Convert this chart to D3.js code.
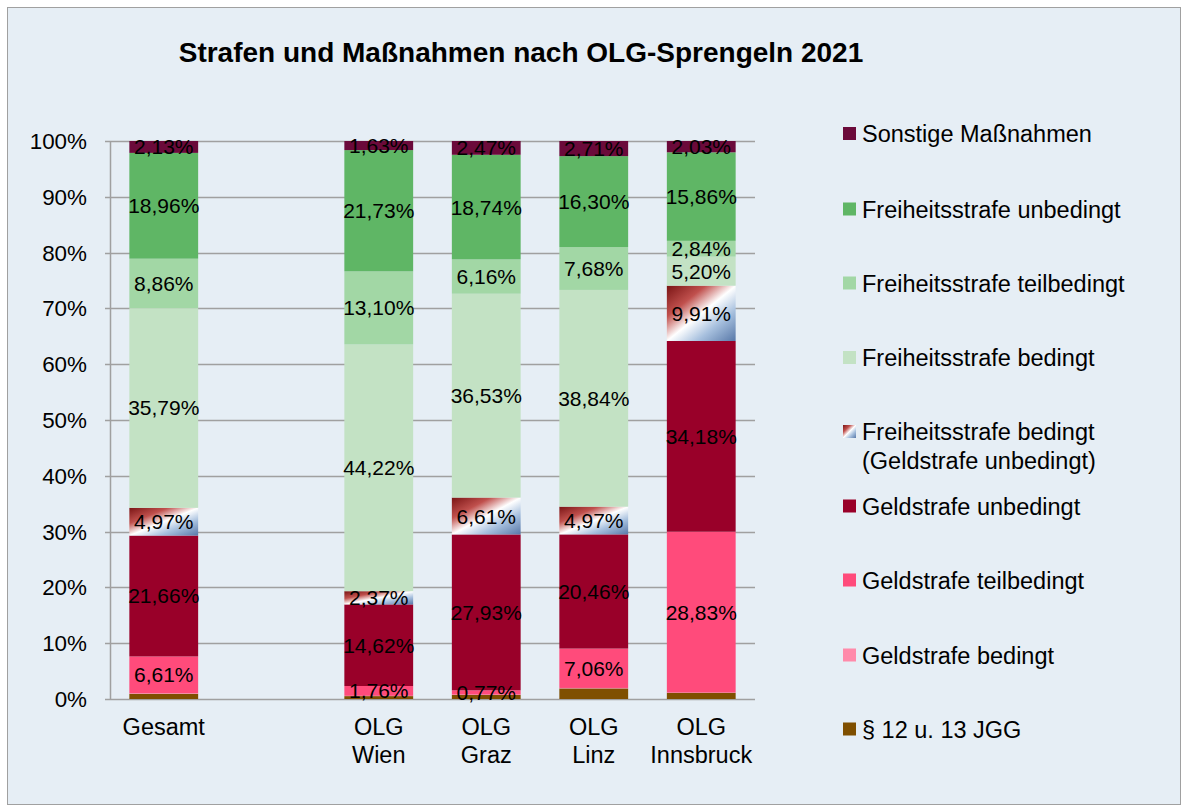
<!DOCTYPE html>
<html>
<head>
<meta charset="utf-8">
<script src="https://cdn.jsdelivr.net/npm/d3@7"></script>
<style>
  body { margin: 0; background: #fff; }
  svg { font-family: "Liberation Sans", Arial, sans-serif; }
</style>
</head>
<body>
<script>
// Categories (columns) – a spacer slot sits between Gesamt and the OLG columns
const categories = ["Gesamt", "OLG Wien", "OLG Graz", "OLG Linz", "OLG Innsbruck"];
const slots = ["Gesamt", "spacer", "OLG Wien", "OLG Graz", "OLG Linz", "OLG Innsbruck"];

// Series, bottom to top, values in percent
const seriesNames = [
  "§ 12 u. 13 JGG",
  "Geldstrafe bedingt",
  "Geldstrafe teilbedingt",
  "Geldstrafe unbedingt",
  "Freiheitsstrafe bedingt (Geldstrafe unbedingt)",
  "Freiheitsstrafe bedingt",
  "Freiheitsstrafe teilbedingt",
  "Freiheitsstrafe unbedingt",
  "Sonstige Maßnahmen"
];
const jgg              = [0.92, 0.52, 0.72, 1.90, 1.10];
const geldBedingt      = [0.10, 0.05, 0.07, 0.08, 0.05];
const geldTeilbedingt  = [6.61, 1.76, 0.77, 7.06, 28.83];
const geldUnbedingt    = [21.66, 14.62, 27.93, 20.46, 34.18];
const freiGeld         = [4.97, 2.37, 6.61, 4.97, 9.91];
const freiBedingt      = [35.79, 44.22, 36.53, 38.84, 5.20];
const freiTeilbedingt  = [8.86, 13.10, 6.16, 7.68, 2.84];
const freiUnbedingt    = [18.96, 21.73, 18.74, 16.30, 15.86];
const sonstige         = [2.13, 1.63, 2.47, 2.71, 2.03];
const seriesValues = [jgg, geldBedingt, geldTeilbedingt, geldUnbedingt, freiGeld,
                      freiBedingt, freiTeilbedingt, freiUnbedingt, sonstige];
const showLabel = [false, false, true, true, true, true, true, true, true];
const yTicks = [0, 10, 20, 30, 40, 50, 60, 70, 80, 90, 100];

const colors = ["#7F4F00", "#FF8AAA", "#FF4B7B", "#990029", "url(#stripe)",
                "#C3E2C4", "#A2D7A5", "#5FB665", "#6B0A3A"];

const W = 1182, H = 807;
const plot = { left: 110, right: 755, top: 141, bottom: 699 };

const svg = d3.select("body").append("svg")
  .attr("width", W).attr("height", H);

// gradient used by the mixed series
const grad = svg.append("defs").append("linearGradient")
  .attr("id", "stripe")
  .attr("x1", 0).attr("y1", 0).attr("x2", 1).attr("y2", 1);
[["0", "#7A1414"], ["0.28", "#C0504D"], ["0.5", "#FFFFFF"], ["0.72", "#A7C0DE"], ["1", "#5878A8"]]
  .forEach(s => grad.append("stop").attr("offset", s[0]).attr("stop-color", s[1]));

// background + border
svg.append("rect")
  .attr("x", 7.5).attr("y", 7.5).attr("width", W - 9).attr("height", H - 10)
  .attr("fill", "#E6EEF5").attr("stroke", "#A0A0A0").attr("stroke-width", 1);

// title
svg.append("text")
  .attr("x", 521).attr("y", 62)
  .attr("text-anchor", "middle")
  .style("font-size", "28px").style("font-weight", "bold")
  .text("Strafen und Maßnahmen nach OLG-Sprengeln 2021");

const x = d3.scaleBand().domain(slots)
  .range([plot.left, plot.right])
  .paddingInner(0.36).paddingOuter(0.18);
const y = d3.scaleLinear().domain([0, 100]).range([plot.bottom, plot.top]);

// gridlines
svg.append("g").selectAll("line").data(yTicks).enter().append("line")
  .attr("x1", plot.left - 5).attr("x2", plot.right)
  .attr("y1", d => Math.round(y(d)) + 0.5).attr("y2", d => Math.round(y(d)) + 0.5)
  .attr("stroke", "#A0A0A0").attr("stroke-width", 1.5);

// y axis line
svg.append("line")
  .attr("x1", plot.left + 0.5).attr("x2", plot.left + 0.5)
  .attr("y1", plot.top).attr("y2", plot.bottom + 1)
  .attr("stroke", "#A0A0A0").attr("stroke-width", 1.5);

// y tick labels
svg.append("g").selectAll("text").data(yTicks).enter().append("text")
  .attr("x", 87).attr("y", d => y(d) + 8)
  .attr("text-anchor", "end")
  .style("font-size", "22.4px")
  .text(d => d + "%");

// stacked data
const table = categories.map((c, i) => {
  const row = { cat: c };
  seriesNames.forEach((s, k) => { row[s] = seriesValues[k][i]; });
  return row;
});
const stacked = d3.stack().keys(seriesNames)(table);

const layers = svg.append("g").selectAll("g").data(stacked).enter().append("g")
  .attr("fill", (d, i) => colors[i]);

layers.selectAll("rect").data(d => d).enter().append("rect")
  .attr("x", d => x(d.data.cat))
  .attr("width", x.bandwidth())
  .attr("y", d => y(d[1]))
  .attr("height", d => y(d[0]) - y(d[1]));

// data labels
layers.each(function(layer, i) {
  if (!showLabel[i]) return;
  d3.select(this.parentNode).append("g").selectAll("text").data(layer).enter().append("text")
    .attr("x", d => x(d.data.cat) + x.bandwidth() / 2)
    .attr("y", d => y((d[0] + d[1]) / 2) + 7.5)
    .attr("text-anchor", "middle")
    .attr("fill", "#000")
    .style("font-size", "21px")
    .text(d => d3.format(".2f")(d[1] - d[0]).replace(".", ",") + "%");
});

// x axis labels
const xl = svg.append("g").selectAll("text").data(categories).enter().append("text")
  .attr("x", d => x(d) + x.bandwidth() / 2)
  .attr("y", 735)
  .attr("text-anchor", "middle")
  .style("font-size", "23.5px");
xl.each(function(d) {
  const parts = d.split(" ");
  const t = d3.select(this);
  parts.forEach((p, j) => {
    t.append("tspan").attr("x", x(d) + x.bandwidth() / 2).attr("dy", j ? 28 : 0).text(p);
  });
});

// legend, top to bottom
const legendItems = seriesNames.map((s, i) => ({ name: s, color: colors[i] })).reverse();
const legendY = [133.5, 209, 283, 357.5, 431.5, 506, 580, 655, 729];
const lg = svg.append("g").selectAll("g").data(legendItems).enter().append("g")
  .attr("transform", (d, i) => "translate(843," + legendY[i] + ")");
lg.append("rect")
  .attr("x", 0).attr("y", -6.5).attr("width", 13).attr("height", 13)
  .attr("fill", d => d.color);
lg.append("text")
  .attr("x", 19).attr("y", 8.5)
  .style("font-size", "23.5px")
  .each(function(d) {
    const t = d3.select(this);
    const m = d.name.match(/^(.*) (\(.*\))$/);
    if (m) {
      t.append("tspan").attr("x", 19).text(m[1]);
      t.append("tspan").attr("x", 19).attr("dy", 29).text(m[2]);
    } else {
      t.text(d.name);
    }
  });
</script>
</body>
</html>
